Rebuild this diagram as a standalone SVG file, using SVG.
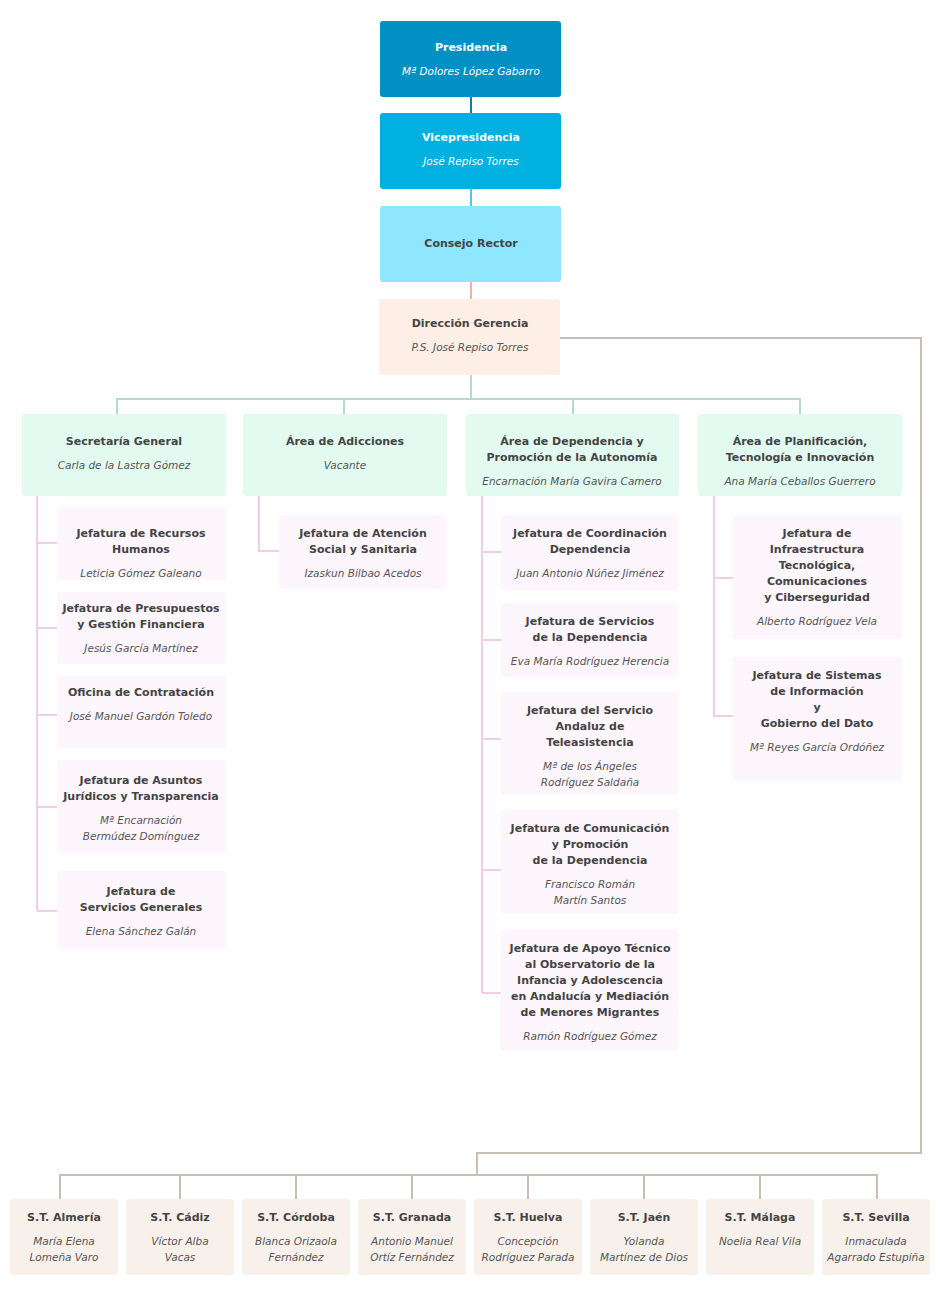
<svg xmlns="http://www.w3.org/2000/svg" width="940" height="1315" viewBox="0 0 940 1315">
<style>
text{font-family:"DejaVu Sans","Liberation Sans",sans-serif;font-size:11px;text-anchor:middle}
.t{font-weight:bold;fill:#444}
.n{font-style:italic;fill:#555;font-size:10.5px}
.w{fill:#fff}
.l2{fill:#e2faf0}.ch{fill:#fdf6fd}.st{fill:#f8f1eb}
.g{stroke:#b3dccb;stroke-width:2;fill:none}
.p{stroke:#f2cde6;stroke-width:2;fill:none}
.b{stroke:#cbbfb5;stroke-width:2;fill:none}
</style>
<rect width="940" height="1315" fill="#fff"/>
<g id="connectors">
<line x1="471" y1="97" x2="471" y2="113" stroke="#0a7fae" stroke-width="2"/>
<line x1="471" y1="189" x2="471" y2="206" stroke="#4cc9ee" stroke-width="2"/>
<line x1="471" y1="282" x2="471" y2="299" stroke="#f0b39a" stroke-width="2"/>
<path class="g" d="M471 375V399M117 414V399H800V414M344 399V414M573 399V414"/>
<path class="p" d="M37 496V911M37 543H57M37 628H57M37 715H57M37 807H57M37 911H57"/>
<path class="p" d="M259 496V551H279"/>
<path class="p" d="M482 496V993M482 552H501M482 640H501M482 739H501M482 870H501M482 993H501"/>
<path class="p" d="M714 496V716H733M714 578H733"/>
<path class="b" d="M560 338H921V1153H477V1175M60 1199V1175H877V1199M180 1175V1199M296 1175V1199M412 1175V1199M528 1175V1199M644 1175V1199M760 1175V1199"/>
</g>
<g id="presidencia"><rect x="380" y="21" width="181" height="76" rx="3" fill="#0090c4"/><text class="t w" x="471" y="51" style="fill:#fff">Presidencia</text><text class="n" x="471" y="75" style="fill:#fff">Mª Dolores López Gabarro</text></g>
<g id="vicepresidencia"><rect x="380" y="113" width="181" height="76" rx="3" fill="#00b0e0"/><text class="t" x="471" y="141" style="fill:#fff">Vicepresidencia</text><text class="n" x="471" y="165" style="fill:#fff">José Repiso Torres</text></g>
<g id="consejo"><rect x="380" y="206" width="181" height="76" rx="3" fill="#8ee6ff"/><text class="t" x="471" y="247">Consejo Rector</text></g>
<g id="direccion"><rect x="379" y="299" width="181" height="76" rx="3" fill="#fdeee6"/><text class="t" x="470" y="327">Dirección Gerencia</text><text class="n" x="470" y="351">P.S. José Repiso Torres</text></g>
<g id="secretaria"><rect class="l2" x="22" y="414" width="204" height="82" rx="3"/><text class="t" x="124" y="445">Secretaría General</text><text class="n" x="124" y="469">Carla de la Lastra Gómez</text></g>
<g id="adicciones"><rect class="l2" x="243" y="414" width="204" height="82" rx="3"/><text class="t" x="345" y="445">Área de Adicciones</text><text class="n" x="345" y="469">Vacante</text></g>
<g id="dependencia"><rect class="l2" x="466" y="414" width="213" height="82" rx="3"/><text class="t" x="572" y="445">Área de Dependencia y</text><text class="t" x="572" y="461">Promoción de la Autonomía</text><text class="n" x="572" y="485">Encarnación María Gavira Camero</text></g>
<g id="planificacion"><rect class="l2" x="698" y="414" width="204" height="82" rx="3"/><text class="t" x="800" y="445">Área de Planificación,</text><text class="t" x="800" y="461">Tecnología e Innovación</text><text class="n" x="800" y="485">Ana María Ceballos Guerrero</text></g>
<g id="rrhh"><rect class="ch" x="57" y="507" width="169" height="73" rx="3"/><text class="t" x="141" y="537">Jefatura de Recursos</text><text class="t" x="141" y="553">Humanos</text><text class="n" x="141" y="577">Leticia Gómez Galeano</text></g>
<g id="presupuestos"><rect class="ch" x="57" y="592" width="169" height="72" rx="3"/><text class="t" x="141" y="612">Jefatura de Presupuestos</text><text class="t" x="141" y="628">y Gestión Financiera</text><text class="n" x="141" y="652">Jesús García Martínez</text></g>
<g id="contratacion"><rect class="ch" x="57" y="676" width="169" height="72" rx="3"/><text class="t" x="141" y="696">Oficina de Contratación</text><text class="n" x="141" y="720">José Manuel Gardón Toledo</text></g>
<g id="juridicos"><rect class="ch" x="57" y="760" width="169" height="93" rx="3"/><text class="t" x="141" y="784">Jefatura de Asuntos</text><text class="t" x="141" y="800">Jurídicos y Transparencia</text><text class="n" x="141" y="824">Mª Encarnación</text><text class="n" x="141" y="840">Bermúdez Domínguez</text></g>
<g id="servgen"><rect class="ch" x="57" y="871" width="169" height="78" rx="3"/><text class="t" x="141" y="895">Jefatura de</text><text class="t" x="141" y="911">Servicios Generales</text><text class="n" x="141" y="935">Elena Sánchez Galán</text></g>
<g id="atencion"><rect class="ch" x="279" y="515" width="168" height="74" rx="3"/><text class="t" x="363" y="537">Jefatura de Atención</text><text class="t" x="363" y="553">Social y Sanitaria</text><text class="n" x="363" y="577">Izaskun Bilbao Acedos</text></g>
<g id="coordinacion"><rect class="ch" x="501" y="515" width="178" height="75" rx="3"/><text class="t" x="590" y="537">Jefatura de Coordinación</text><text class="t" x="590" y="553">Dependencia</text><text class="n" x="590" y="577">Juan Antonio Núñez Jiménez</text></g>
<g id="servdep"><rect class="ch" x="501" y="603" width="178" height="74" rx="3"/><text class="t" x="590" y="625">Jefatura de Servicios</text><text class="t" x="590" y="641">de la Dependencia</text><text class="n" x="590" y="665">Eva María Rodríguez Herencia</text></g>
<g id="teleasistencia"><rect class="ch" x="501" y="692" width="178" height="103" rx="3"/><text class="t" x="590" y="714">Jefatura del Servicio</text><text class="t" x="590" y="730">Andaluz de</text><text class="t" x="590" y="746">Teleasistencia</text><text class="n" x="590" y="770">Mª de los Ángeles</text><text class="n" x="590" y="786">Rodríguez Saldaña</text></g>
<g id="comunicacion"><rect class="ch" x="501" y="810" width="178" height="104" rx="3"/><text class="t" x="590" y="832">Jefatura de Comunicación</text><text class="t" x="590" y="848">y Promoción</text><text class="t" x="590" y="864">de la Dependencia</text><text class="n" x="590" y="888">Francisco Román</text><text class="n" x="590" y="904">Martín Santos</text></g>
<g id="observatorio"><rect class="ch" x="501" y="930" width="178" height="121" rx="3"/><text class="t" x="590" y="952">Jefatura de Apoyo Técnico</text><text class="t" x="590" y="968">al Observatorio de la</text><text class="t" x="590" y="984">Infancia y Adolescencia</text><text class="t" x="590" y="1000">en Andalucía y Mediación</text><text class="t" x="590" y="1016">de Menores Migrantes</text><text class="n" x="590" y="1040">Ramón Rodríguez Gómez</text></g>
<g id="infraestructura"><rect class="ch" x="733" y="515" width="169" height="124" rx="3"/><text class="t" x="817" y="537">Jefatura de</text><text class="t" x="817" y="553">Infraestructura</text><text class="t" x="817" y="569">Tecnológica,</text><text class="t" x="817" y="585">Comunicaciones</text><text class="t" x="817" y="601">y Ciberseguridad</text><text class="n" x="817" y="625">Alberto Rodríguez Vela</text></g>
<g id="sistemas"><rect class="ch" x="733" y="657" width="169" height="124" rx="3"/><text class="t" x="817" y="679">Jefatura de Sistemas</text><text class="t" x="817" y="695">de Información</text><text class="t" x="817" y="711">y</text><text class="t" x="817" y="727">Gobierno del Dato</text><text class="n" x="817" y="751">Mª Reyes García Ordóñez</text></g>
<g id="st-almeria"><rect class="st" x="10" y="1199" width="108" height="76" rx="3"/><text class="t" x="64" y="1221">S.T. Almería</text><text class="n" x="64" y="1245">María Elena</text><text class="n" x="64" y="1261">Lomeña Varo</text></g>
<g id="st-cadiz"><rect class="st" x="126" y="1199" width="108" height="76" rx="3"/><text class="t" x="180" y="1221">S.T. Cádiz</text><text class="n" x="180" y="1245">Víctor Alba</text><text class="n" x="180" y="1261">Vacas</text></g>
<g id="st-cordoba"><rect class="st" x="242" y="1199" width="108" height="76" rx="3"/><text class="t" x="296" y="1221">S.T. Córdoba</text><text class="n" x="296" y="1245">Blanca Orizaola</text><text class="n" x="296" y="1261">Fernández</text></g>
<g id="st-granada"><rect class="st" x="358" y="1199" width="108" height="76" rx="3"/><text class="t" x="412" y="1221">S.T. Granada</text><text class="n" x="412" y="1245">Antonio Manuel</text><text class="n" x="412" y="1261">Ortíz Fernández</text></g>
<g id="st-huelva"><rect class="st" x="474" y="1199" width="108" height="76" rx="3"/><text class="t" x="528" y="1221">S.T. Huelva</text><text class="n" x="528" y="1245">Concepción</text><text class="n" x="528" y="1261">Rodríguez Parada</text></g>
<g id="st-jaen"><rect class="st" x="590" y="1199" width="108" height="76" rx="3"/><text class="t" x="644" y="1221">S.T. Jaén</text><text class="n" x="644" y="1245">Yolanda</text><text class="n" x="644" y="1261">Martínez de Dios</text></g>
<g id="st-malaga"><rect class="st" x="706" y="1199" width="108" height="76" rx="3"/><text class="t" x="760" y="1221">S.T. Málaga</text><text class="n" x="760" y="1245">Noelia Real Vila</text></g>
<g id="st-sevilla"><rect class="st" x="822" y="1199" width="108" height="76" rx="3"/><text class="t" x="876" y="1221">S.T. Sevilla</text><text class="n" x="876" y="1245">Inmaculada</text><text class="n" x="876" y="1261">Agarrado Estupiña</text></g>
</svg>
